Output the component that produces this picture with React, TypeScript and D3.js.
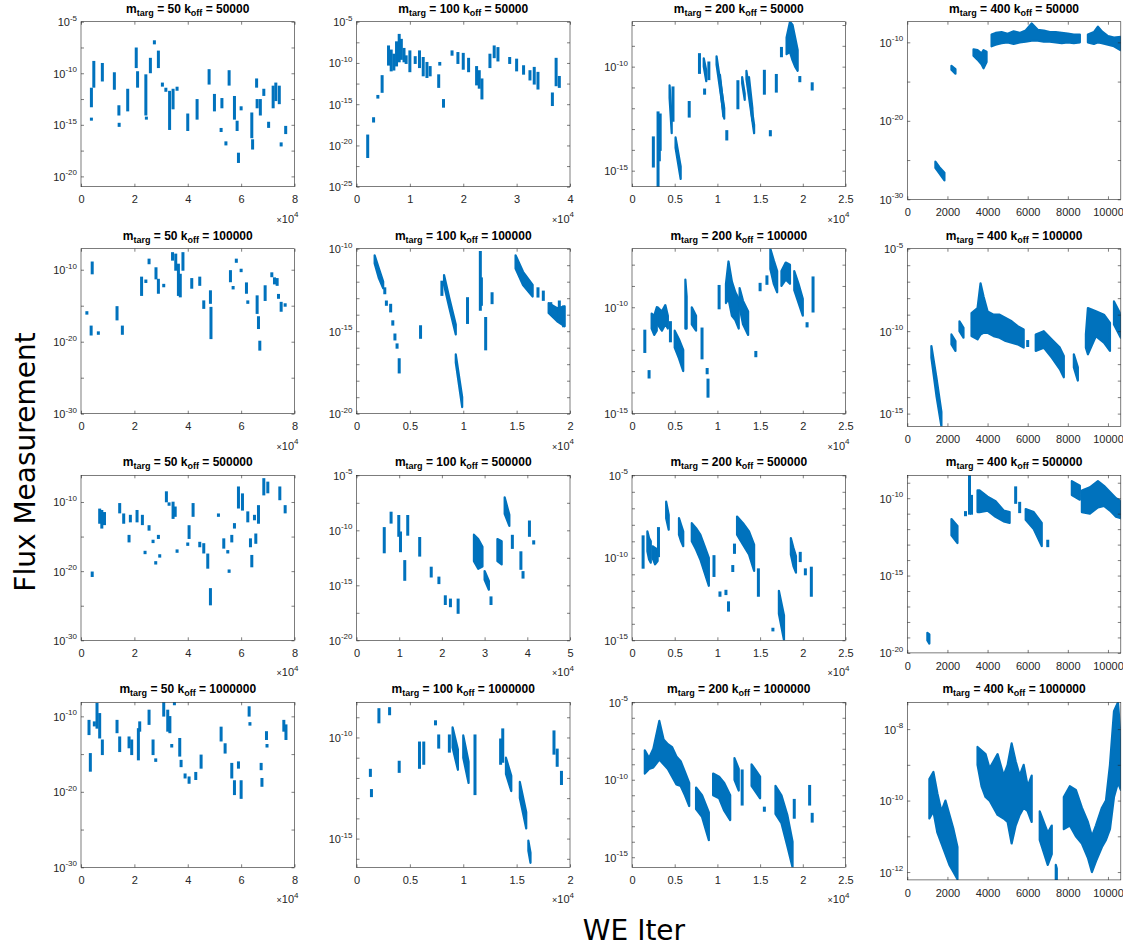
import { useEffect, useRef } from "react";
import * as d3 from "d3";

type Stick = [number, number, number]; // x, log10 top, log10 bottom
type Band = [number, number, number][];

const mTarg = [50, 100, 200, 400];
const kOff = [50000, 100000, 500000, 1000000];

// x axis limits and tick step, row by row (columns m=50,100,200,400)
const xMax = [
    [80000, 40000, 25000, 10640],
    [80000, 20000, 25000, 10640],
    [80000, 50000, 25000, 10640],
    [80000, 20000, 25000, 10640],
];
const xStep = [
    [20000, 10000, 5000, 2000],
    [20000, 5000, 5000, 2000],
    [20000, 10000, 5000, 2000],
    [20000, 5000, 5000, 2000],
];

// y axis limits as exponents [bottom, top], labelled exponents and tick spacing
const yLim = [
    [[-21, -5], [-25, -5], [-15.77, -7.84], [-30, -7.37]],
    [[-30, -7.08], [-20, -10], [-15, -7.25], [-15.77, -5]],
    [[-30, -6.14], [-20, -5], [-15, -5], [-20, -8.52]],
    [[-30, -8.14], [-16.42, -8.26], [-15.65, -5], [-12.22, -7.25]],
];
const yLabels = [
    [[-5, -10, -15, -20], [-5, -10, -15, -20, -25], [-10, -15], [-10, -20, -30]],
    [[-10, -20, -30], [-10, -15, -20], [-10, -15], [-5, -10, -15]],
    [[-10, -20, -30], [-5, -10, -15, -20], [-5, -10, -15], [-10, -15, -20]],
    [[-10, -20, -30], [-10, -15], [-5, -10, -15], [-8, -10, -12]],
];
const yTickStep = [
    [2.5, 2.5, 1, 5],
    [5, 1, 1, 1],
    [5, 2.5, 1, 1],
    [5, 1, 1, 1],
];

// ---- k_off = 50000 ----
const r1c1Sticks: Stick[] = [
    [3900, -11.5, -13.2], [3900, -14.4, -14.5], [4800, -8.9, -11.3], [8000, -9.1, -10.7],
    [12500, -10.0, -11.5], [14200, -13.2, -14.0], [14300, -14.9, -15.1], [17500, -11.6, -13.6],
    [20700, -7.6, -9.4], [21200, -9.9, -11.3], [24300, -10.2, -14.0], [24500, -14.3, -14.4],
    [26000, -8.6, -9.9], [27500, -6.9, -7.1], [29000, -7.9, -9.4], [30500, -11.0, -11.2],
    [31800, -11.5, -11.7], [33200, -11.8, -15.4], [34500, -11.6, -13.4], [36000, -11.4, -11.6],
    [40000, -14.0, -15.5], [43500, -12.6, -14.4], [48000, -9.7, -11.0], [50000, -12.1, -13.6],
    [52800, -12.5, -13.3], [52500, -15.4, -15.6], [54300, -16.7, -16.9], [55500, -9.8, -11.1],
    [57500, -12.3, -14.4], [58500, -14.7, -15.5], [59000, -17.8, -18.6], [60000, -13.3, -13.5],
    [64000, -13.9, -16.2], [64300, -16.5, -17.3], [65800, -10.6, -11.3], [66000, -12.6, -13.3],
    [67200, -12.6, -14.0], [68500, -11.6, -12.1], [70300, -14.8, -15.2], [72000, -11.3, -13.3],
    [73000, -11.0, -12.6], [74300, -11.3, -12.9], [75000, -16.8, -17.0], [76700, -15.2, -15.8],
];
const r1c1Bands: Band[] = [];

const r1c2Sticks: Stick[] = [
    [2100, -18.8, -21.4], [3200, -16.7, -17.1], [4000, -14.0, -14.2], [4800, -11.6, -13.5],
    [6000, -8.0, -10.2], [6500, -8.5, -10.9], [7000, -9.0, -10.8], [7500, -7.5, -10.3],
    [8000, -6.6, -9.8], [8400, -7.2, -9.5], [8900, -8.3, -9.8], [9300, -9.2, -10.0],
    [10000, -8.6, -11.0], [11000, -9.3, -10.0], [11800, -8.6, -10.5], [12500, -9.4, -11.5],
    [13200, -10.0, -11.7], [13800, -10.5, -11.5], [15400, -11.5, -12.9], [15600, -10.0, -10.2],
    [16300, -14.5, -15.3], [17900, -8.6, -9.0], [19000, -8.8, -10.0], [20000, -8.9, -10.7],
    [21000, -9.5, -11.0], [22500, -10.5, -12.6], [23000, -11.0, -13.0], [23500, -12.0, -14.3],
    [25000, -9.0, -10.5], [25800, -8.0, -9.3], [26500, -8.2, -9.7], [28700, -9.4, -10.0],
    [30000, -9.6, -10.9], [31300, -10.4, -11.3], [32500, -11.0, -12.0], [33300, -10.6, -12.5],
    [34000, -11.2, -13.1], [36700, -13.7, -15.1], [37400, -9.5, -12.7], [38000, -11.7, -12.9],
];
const r1c2Bands: Band[] = [];

const r1c3Sticks: Stick[] = [
    [2500, -13.4, -14.8], [3050, -12.2, -15.8], [3200, -12.5, -14.5], [3300, -12.3, -14.0],
    [4800, -11.0, -12.6], [6700, -11.7, -12.4], [7900, -9.4, -10.3], [8500, -11.1, -11.3],
    [9000, -9.8, -10.6], [11100, -13.1, -13.5], [12400, -10.7, -12.0], [15500, -10.2, -11.3],
    [16200, -13.1, -13.3], [16900, -10.4, -11.2], [17500, -9.1, -9.5], [19650, -10.5, -10.7],
    [21100, -10.8, -11.1],
];
const r1c3Bands: Band[] = [
    [[4400, -10.9, -11.5], [4650, -12.5, -13.2]],
    [[5100, -13.4, -13.9], [5700, -14.8, -15.4]],
    [[8400, -9.6, -10.0], [8700, -10.2, -10.7]],
    [[9900, -9.5, -9.9], [10800, -12.0, -12.5]],
    [[10300, -10.4, -10.8], [10700, -11.9, -12.4]],
    [[12900, -10.5, -10.8], [13200, -11.3, -11.6]],
    [[13400, -10.2, -10.6], [14300, -12.8, -13.2]],
    [[13700, -10.5, -11.0], [14100, -12.0, -12.6]],
    [[18100, -8.6, -9.4], [18500, -7.84, -9.3], [18800, -8.0, -9.7], [19100, -8.6, -10.0], [19400, -9.2, -10.2]],
];

const r1c4Sticks: Stick[] = [];
const r1c4Bands: Band[] = [
    [[1400, -25.2, -26.0], [1600, -25.9, -26.7], [1850, -26.6, -27.6]],
    [[2200, -13.0, -13.5], [2400, -13.4, -14.0]],
    [[3300, -10.9, -11.7], [3500, -11.0, -12.2], [3700, -11.4, -12.8], [3800, -11.0, -13.3], [3950, -11.2, -12.5]],
    [
        [4200, -9.0, -10.5], [4400, -8.8, -10.3], [4700, -8.7, -10.1], [5000, -8.9, -10.0],
        [5300, -8.6, -10.2], [5600, -8.8, -10.0], [5900, -8.5, -9.9], [6200, -7.6, -9.8],
        [6500, -8.4, -9.8], [6800, -8.5, -9.9], [7100, -8.7, -9.9], [7400, -8.7, -10.0],
        [7700, -8.8, -10.1], [8000, -8.9, -10.0], [8300, -9.0, -10.1], [8600, -9.0, -10.0],
    ],
    [
        [9000, -9.0, -10.0], [9300, -8.7, -10.2], [9500, -8.0, -10.0], [9700, -8.6, -10.1],
        [10000, -9.2, -10.3], [10300, -9.4, -10.5], [10640, -9.3, -11.0],
    ],
];

// ---- k_off = 100000 ----
const r2c1Sticks: Stick[] = [
    [2200, -15.9, -16.1], [3800, -17.9, -19.0], [4200, -9.0, -10.5], [6500, -18.7, -18.9],
    [13500, -15.2, -16.9], [15500, -17.9, -18.9], [22700, -11.1, -13.5], [24300, -11.5, -11.7],
    [25500, -8.6, -9.1], [28100, -9.8, -11.2], [29000, -11.4, -13.2], [31000, -12.1, -12.3],
    [34300, -7.7, -8.6], [35500, -7.9, -10.0], [36500, -9.3, -13.5], [37200, -10.7, -13.7],
    [38200, -7.7, -10.0], [41500, -11.3, -12.5], [44500, -11.1, -12.1], [46000, -14.4, -15.3],
    [48500, -13.0, -14.6], [48700, -15.3, -19.5], [56000, -10.2, -11.6], [57000, -12.4, -12.6],
    [58200, -8.6, -8.9], [60000, -10.0, -10.2], [62000, -11.9, -13.2], [62500, -14.4, -14.6],
    [66000, -13.7, -16.0], [66500, -16.6, -18.1], [67000, -20.0, -21.1], [69000, -12.3, -14.2],
    [71500, -10.5, -10.9], [72500, -11.2, -11.9], [73500, -11.3, -12.1], [74000, -13.5, -13.9],
    [75000, -14.6, -15.7], [76500, -14.8, -15.0],
];
const r2c1Bands: Band[] = [];

const r2c2Sticks: Stick[] = [
    [2650, -12.4, -12.7], [2800, -13.2, -13.4], [3200, -13.4, -13.8], [3400, -14.4, -14.6],
    [3600, -15.2, -15.5], [3800, -15.8, -16.0], [4000, -16.7, -17.5], [6000, -14.7, -15.4],
    [8000, -12.0, -12.8], [10400, -13.0, -14.5], [11600, -10.2, -13.7], [11700, -11.8, -13.4],
    [12100, -14.2, -16.1], [12700, -12.7, -13.3], [17000, -12.4, -12.9], [17500, -12.6, -13.1],
    [18200, -13.3, -13.8], [19000, -13.2, -14.4], [19400, -13.5, -14.7],
];
const r2c2Bands: Band[] = [
    [[1700, -10.4, -10.9], [2100, -11.2, -11.8], [2500, -12.0, -12.4]],
    [[8200, -11.6, -12.2], [8700, -13.0, -13.6], [9300, -14.6, -15.2]],
    [[9300, -16.4, -16.9], [9900, -19.0, -19.6]],
    [[14900, -10.4, -11.2], [15600, -11.4, -12.2], [16500, -12.2, -12.9]],
    [[18000, -13.3, -13.9], [18800, -13.6, -14.4], [19500, -13.5, -14.7]],
];

const r2c3Sticks: Stick[] = [
    [1500, -11.1, -12.1], [2000, -13.0, -13.3], [4500, -10.7, -11.6], [8200, -11.0, -12.4],
    [8800, -12.9, -13.1], [8900, -13.4, -14.2], [10200, -9.0, -10.05], [14500, -12.1, -12.3],
    [15000, -8.9, -9.2], [15800, -8.55, -8.9], [20500, -10.75, -10.9], [21200, -8.6, -10.2],
];
const r2c3Bands: Band[] = [
    [[2300, -10.3, -11.0], [2600, -10.4, -11.3], [2900, -10.0, -11.1]],
    [[3000, -10.0, -10.8], [3500, -10.2, -11.1], [3900, -9.9, -10.8], [4200, -10.4, -11.0]],
    [[5000, -11.1, -11.9], [5500, -11.5, -12.4], [6000, -12.0, -13.0]],
    [[6250, -8.7, -11.0], [6400, -9.5, -11.0]],
    [[7000, -10.0, -10.8], [7500, -10.4, -11.1]],
    [[11000, -8.9, -9.8], [11300, -7.85, -9.6], [11700, -8.8, -10.4], [12100, -9.3, -10.6], [12500, -9.6, -11.0]],
    [[12600, -9.1, -10.0], [13000, -9.7, -10.8], [13600, -10.2, -11.3]],
    [[16200, -7.25, -8.2], [16600, -7.8, -8.9], [17000, -8.3, -9.3]],
    [[17500, -8.3, -9.0], [18000, -7.9, -8.7], [18500, -8.0, -8.9]],
    [[19000, -8.3, -9.2], [19500, -8.9, -9.8], [20000, -9.6, -10.4]],
];

const r2c4Sticks: Stick[] = [[6000, -10.6, -10.9]];
const r2c4Bands: Band[] = [
    [[1200, -10.9, -11.6], [1450, -12.8, -13.9], [1700, -14.9, -15.77]],
    [[2200, -10.2, -10.8], [2400, -10.6, -11.2]],
    [[2600, -9.4, -10.0], [2800, -9.8, -10.4]],
    [
        [3200, -8.9, -10.3], [3500, -8.6, -10.5], [3650, -7.1, -10.2], [3800, -7.9, -10.1],
        [4000, -8.8, -10.1], [4300, -9.0, -10.3], [4600, -9.0, -10.4], [4900, -9.2, -10.6],
        [5200, -9.4, -10.7], [5500, -9.7, -10.8], [5800, -9.9, -11.0],
    ],
    [[6400, -10.2, -11.2], [6800, -10.0, -11.0], [7200, -10.5, -11.6], [7600, -11.0, -12.3], [7800, -11.5, -12.8]],
    [[8300, -11.4, -12.2], [8500, -12.2, -13.0]],
    [[8900, -10.2, -11.0], [9000, -8.6, -11.4], [9400, -8.8, -10.3], [9800, -9.0, -10.7], [10100, -9.5, -11.2]],
    [[10300, -8.2, -9.6], [10640, -9.0, -10.4]],
];

// ---- k_off = 500000 ----
const r3c1Sticks: Stick[] = [
    [4200, -20.2, -20.7], [7000, -11.1, -13.0], [7800, -11.3, -13.7], [8800, -11.6, -13.2],
    [14500, -10.3, -11.5], [16000, -11.8, -13.0], [18000, -14.9, -15.7], [18500, -12.0, -12.8],
    [21000, -11.3, -12.8], [23000, -12.0, -13.2], [24000, -17.2, -17.4], [25500, -13.5, -14.0],
    [27000, -15.6, -15.8], [28000, -18.7, -18.9], [29000, -14.9, -15.2], [29500, -17.7, -17.9],
    [32000, -8.6, -9.9], [33000, -10.2, -10.4], [34500, -10.1, -12.3], [35300, -10.8, -12.0],
    [36000, -17.0, -17.2], [40000, -16.0, -16.2], [40500, -13.5, -15.2], [42000, -10.3, -12.0],
    [44500, -15.9, -16.4], [46000, -16.1, -17.3], [47500, -17.6, -19.5], [48500, -22.6, -24.8],
    [51500, -11.8, -12.0], [53500, -15.4, -16.6], [55000, -17.1, -17.3], [55500, -19.9, -20.1],
    [56500, -14.9, -15.7], [57500, -13.2, -13.7], [59000, -7.9, -10.8], [60500, -8.9, -11.1],
    [62500, -11.5, -12.8], [63500, -15.4, -16.4], [64000, -17.8, -19.3], [65000, -12.0, -12.5],
    [65500, -14.7, -15.9], [66500, -10.6, -13.0], [68500, -6.7, -8.9], [70000, -7.2, -8.6],
    [74500, -7.9, -9.6], [76500, -10.6, -11.5],
];
const r3c1Bands: Band[] = [];

const r3c2Sticks: Stick[] = [
    [6500, -9.8, -12.0], [8100, -8.4, -9.3], [9900, -8.7, -10.5], [10300, -10.2, -11.9],
    [11300, -12.8, -14.5], [12000, -8.7, -10.4], [14800, -10.7, -12.3], [17500, -13.4, -14.2],
    [19300, -14.3, -14.8], [20800, -16.0, -16.7], [22000, -16.3, -16.9], [23800, -16.3, -17.5],
    [31500, -16.1, -16.7], [36500, -10.5, -11.6], [38500, -12.0, -13.5], [39000, -13.8, -14.3],
    [40500, -9.2, -10.5], [41500, -11.0, -11.2],
];
const r3c2Bands: Band[] = [
    [[27500, -10.4, -12.8], [28500, -10.8, -13.5], [29500, -11.5, -13.3]],
    [[30000, -13.7, -14.5], [31000, -14.6, -15.4]],
    [[33000, -10.8, -12.8], [34000, -11.0, -13.1]],
    [[34700, -7.0, -8.5], [35800, -8.6, -9.6]],
];

const r3c3Sticks: Stick[] = [
    [1300, -8.7, -10.6], [3100, -8.2, -9.9], [9600, -9.9, -11.1], [10300, -12.1, -12.3],
    [11000, -12.0, -12.2], [11300, -12.7, -13.2], [11800, -10.5, -10.8], [12000, -9.2, -9.7],
    [14800, -10.7, -12.3], [16500, -14.3, -14.4], [19700, -9.7, -10.2], [20300, -10.7, -11.0],
    [21000, -10.6, -12.3],
];
const r3c3Bands: Band[] = [
    [[1800, -8.4, -9.6], [2000, -8.8, -10.1], [2200, -9.0, -10.3]],
    [[2400, -9.3, -10.0], [2700, -9.4, -10.4], [3000, -9.5, -10.2]],
    [[4000, -6.6, -7.6], [4300, -7.4, -8.3]],
    [[5500, -7.6, -8.6], [5750, -8.0, -9.0], [6000, -8.4, -9.3]],
    [[7000, -7.9, -9.0], [7500, -8.2, -9.5], [8000, -8.6, -10.1], [8500, -9.3, -10.9], [9000, -10.0, -11.7]],
    [[12300, -7.5, -8.6], [13000, -7.9, -9.2], [13700, -8.4, -9.8], [14300, -9.2, -10.8]],
    [[17200, -12.0, -13.4], [17800, -13.5, -15.0]],
    [[18600, -8.8, -9.8], [18900, -9.4, -10.5], [19200, -9.9, -10.9]],
];

const r3c4Sticks: Stick[] = [
    [2900, -10.9, -11.1], [3100, -8.52, -11.0], [3200, -9.85, -11.0], [5400, -9.3, -10.3],
    [5600, -10.3, -10.9], [7000, -12.75, -13.1],
];
const r3c4Bands: Band[] = [
    [[1000, -18.7, -19.2], [1100, -18.8, -19.4]],
    [[2200, -11.35, -12.4], [2500, -11.8, -12.9]],
    [[3500, -9.5, -10.9], [3600, -9.5, -10.9], [4000, -9.9, -10.8], [4400, -10.2, -11.2], [4800, -10.8, -11.5], [5100, -10.9, -11.6]],
    [[5900, -10.7, -11.4], [6300, -10.9, -12.0], [6700, -11.6, -13.1]],
    [[8200, -8.9, -9.8], [8600, -9.2, -10.1]],
    [
        [8700, -9.5, -10.9], [9100, -9.3, -11.0], [9500, -8.9, -10.6], [9800, -9.2, -10.5],
        [10100, -9.6, -10.8], [10400, -10.0, -11.2], [10640, -10.2, -11.3],
    ],
];

// ---- k_off = 1000000 ----
const r4c1Sticks: Stick[] = [
    [3000, -10.6, -12.35], [3500, -15.0, -17.2], [5000, -10.8, -11.2], [6000, -8.35, -11.5],
    [7000, -9.7, -12.8], [8000, -13.2, -15.0], [13500, -10.6, -12.1], [14500, -12.8, -14.6],
    [18000, -12.8, -14.1], [19000, -13.2, -15.0], [21500, -11.7, -15.7], [22000, -10.8, -11.9],
    [25500, -9.25, -11.0], [27000, -13.2, -15.0], [28000, -15.7, -15.9], [31000, -8.14, -9.9],
    [32500, -9.25, -11.9], [33300, -10.1, -12.1], [34000, -13.8, -14.0], [35000, -8.14, -8.4],
    [37000, -13.0, -15.2], [37500, -15.9, -16.6], [39000, -17.7, -18.1], [40500, -18.1, -18.8],
    [43000, -17.5, -18.3], [45000, -15.2, -16.8], [52500, -11.5, -13.2], [54000, -13.7, -14.8],
    [56500, -16.3, -18.1], [57500, -18.6, -20.3], [59000, -16.1, -16.8], [60000, -18.6, -20.8],
    [63000, -8.8, -9.9], [63300, -10.9, -11.1], [67500, -16.3, -17.0], [67800, -18.3, -19.2],
    [69500, -12.1, -13.0], [69700, -13.8, -14.0], [76000, -10.6, -11.9], [76800, -11.2, -13.0],
];
const r4c1Bands: Band[] = [];

const r4c2Sticks: Stick[] = [
    [1300, -11.6, -11.9], [1400, -12.6, -12.9], [2100, -8.6, -9.25], [3100, -8.55, -8.85],
    [4000, -11.2, -11.7], [5900, -10.25, -11.5], [6300, -10.25, -11.3], [7400, -9.2, -9.35],
    [7700, -9.9, -10.5], [8700, -9.9, -10.7], [11100, -9.9, -12.8], [13500, -10.1, -11.3],
    [13700, -9.6, -11.2], [18500, -9.7, -10.8], [18800, -10.6, -11.4], [19200, -11.7, -12.3],
];
const r4c2Bands: Band[] = [
    [[9000, -9.5, -10.5], [9500, -10.6, -11.6]],
    [[10000, -9.9, -11.0], [10500, -11.2, -12.25]],
    [[14000, -11.0, -11.8], [14500, -11.9, -12.65]],
    [[15300, -12.2, -13.0], [15900, -13.7, -14.5]],
    [[16100, -15.1, -15.6], [16300, -15.7, -16.2]],
];

const r4c3Sticks: Stick[] = [
    [12900, -9.4, -11.6], [15500, -11.8, -12.0], [19000, -11.3, -12.45], [20800, -10.4, -11.6],
    [21100, -12.2, -12.7],
];
const r4c3Bands: Band[] = [
    [
        [1500, -8.1, -9.6], [2000, -8.6, -9.3], [2500, -8.0, -9.2], [3200, -6.2, -8.7],
        [3700, -7.4, -9.0], [4200, -7.7, -9.3], [4700, -7.9, -9.8], [5200, -8.5, -10.3],
        [5700, -8.8, -10.4], [6200, -9.5, -11.0], [6700, -10.2, -11.7],
    ],
    [[7500, -10.5, -11.9], [8200, -11.0, -12.4], [9000, -12.1, -13.9]],
    [[9500, -9.6, -11.0], [10200, -9.8, -11.2], [10800, -10.2, -12.0], [11500, -11.0, -12.6]],
    [[12000, -8.6, -10.0], [12500, -9.3, -10.7]],
    [[14000, -9.0, -10.4], [14500, -9.4, -10.8], [15000, -9.8, -11.2]],
    [[16800, -10.4, -12.2], [17500, -11.0, -12.8], [18200, -12.3, -14.3], [18800, -14.0, -15.65]],
];

const r4c4Sticks: Stick[] = [];
const r4c4Bands: Band[] = [
    [
        [1100, -9.4, -10.5], [1300, -9.2, -10.3], [1500, -9.8, -10.9], [1700, -10.3, -11.2],
        [1900, -10.0, -11.5], [2100, -10.4, -11.8], [2300, -10.8, -12.0], [2500, -11.3, -12.2],
    ],
    [
        [3500, -8.5, -9.0], [3700, -8.6, -9.6], [3900, -8.7, -9.9], [4100, -9.1, -10.0],
        [4300, -8.9, -10.2], [4500, -8.7, -10.4], [4800, -9.3, -10.5], [5000, -9.0, -10.6],
        [5200, -8.4, -11.2], [5400, -8.9, -10.7], [5600, -9.3, -10.4], [5800, -9.0, -10.2],
        [6000, -9.6, -10.3], [6200, -9.3, -10.6],
    ],
    [[6600, -10.3, -11.1], [7000, -10.9, -11.8], [7200, -10.7, -11.5]],
    [[7400, -11.8, -12.22], [7450, -11.9, -12.22]],
    [
        [7800, -9.9, -10.8], [8100, -9.6, -10.7], [8400, -9.7, -11.0], [8700, -10.2, -11.2],
        [9000, -10.6, -11.6], [9200, -11.0, -12.0], [9400, -10.7, -11.7], [9700, -10.2, -11.3],
        [9900, -10.0, -11.1], [10100, -9.0, -10.8], [10300, -7.5, -9.9], [10500, -7.25, -9.5],
        [10640, -8.3, -9.7],
    ],
];

const sticks: Stick[][] = [
    r1c1Sticks, r1c2Sticks, r1c3Sticks, r1c4Sticks,
    r2c1Sticks, r2c2Sticks, r2c3Sticks, r2c4Sticks,
    r3c1Sticks, r3c2Sticks, r3c3Sticks, r3c4Sticks,
    r4c1Sticks, r4c2Sticks, r4c3Sticks, r4c4Sticks,
];
const bands: Band[][] = [
    r1c1Bands, r1c2Bands, r1c3Bands, r1c4Bands,
    r2c1Bands, r2c2Bands, r2c3Bands, r2c4Bands,
    r3c1Bands, r3c2Bands, r3c3Bands, r3c4Bands,
    r4c1Bands, r4c2Bands, r4c3Bands, r4c4Bands,
];

export default function App() {
    const svgRef = useRef<SVGSVGElement | null>(null);

    useEffect(() => {
        if (!svgRef.current) return;
        const svg = d3.select(svgRef.current);
        svg.selectAll("*").remove();

        const font = "'Liberation Sans', Arial, Helvetica, sans-serif";
        const bigFont = "'DejaVu Sans', Verdana, sans-serif";
        const blue = "#0072BD";
        const ink = "#262626";

        // subplot layout
        const colLeft = [81, 356.5, 632, 907.3];
        const rowTop = [21.7, 248.7, 475.3, 702.3];

        for (let r = 0; r < 4; r++) {
            for (let c = 0; c < 4; c++) {
                const i = r * 4 + c;
                const w = 213.5;
                const h = c === 3 ? 177.6 : 165;
                const g = svg.append("g").attr("transform", `translate(${colLeft[c]},${rowTop[r]})`);

                const x = d3.scaleLinear().domain([0, xMax[r][c]]).range([0, w]);
                const [lo, hi] = yLim[r][c];
                const y = d3.scaleLog().domain([10 ** lo, 10 ** hi]).range([h, 0]);
                const yv = (e: number) => y(10 ** e);

                g.append("clipPath").attr("id", `clip-${i}`)
                    .append("rect").attr("width", w).attr("height", h);

                const plot = g.append("g").attr("clip-path", `url(#clip-${i})`);

                // dense stretches
                const area = d3.area<[number, number, number]>()
                    .x((d) => x(d[0]))
                    .y0((d) => yv(d[2]))
                    .y1((d) => yv(d[1]));
                plot.selectAll(".band")
                    .data(bands[i])
                    .enter()
                    .append("path")
                    .attr("d", (d) => area(d) || "")
                    .attr("fill", blue)
                    .attr("stroke", blue)
                    .attr("stroke-width", 2.2)
                    .attr("stroke-linejoin", "round");

                // short runs
                plot.selectAll(".stick")
                    .data(sticks[i])
                    .enter()
                    .append("rect")
                    .attr("x", (d) => x(d[0]) - 1.5)
                    .attr("width", 3)
                    .attr("y", (d) => yv(d[1]) - 1)
                    .attr("height", (d) => Math.max(2, yv(d[2]) - yv(d[1]) + 2))
                    .attr("fill", blue);

                // ticks
                const xt = d3.range(0, xMax[r][c] + 1, xStep[r][c]);
                const step = yTickStep[r][c];
                const yt = d3.range(Math.ceil(lo / step) * step, hi + 1e-6, step).map((e) => 10 ** e);

                const styleAxis = (sel: d3.Selection<SVGGElement, unknown, null, undefined>) => {
                    sel.select(".domain").remove();
                    sel.selectAll("line").attr("stroke", ink).attr("stroke-width", 0.6);
                    sel.attr("font-family", font).attr("font-size", 11);
                };

                g.append("g")
                    .attr("transform", `translate(0,${h})`)
                    .call(
                        d3.axisBottom(x)
                            .tickValues(xt)
                            .tickSize(-3)
                            .tickPadding(9)
                            .tickFormat((d) => (c === 3 ? String(d) : String(+d / 10000)))
                    )
                    .call(styleAxis)
                    .selectAll("text")
                    .attr("fill", ink);
                g.append("g")
                    .call(d3.axisTop(x).tickValues(xt).tickSize(-3).tickFormat(() => ""))
                    .call(styleAxis);
                g.append("g")
                    .call(d3.axisLeft(y).tickValues(yt).tickSize(-3).tickFormat(() => ""))
                    .call(styleAxis);
                g.append("g")
                    .attr("transform", `translate(${w},0)`)
                    .call(d3.axisRight(y).tickValues(yt).tickSize(-3).tickFormat(() => ""))
                    .call(styleAxis);

                // box
                g.append("rect")
                    .attr("width", w)
                    .attr("height", h)
                    .attr("fill", "none")
                    .attr("stroke", ink)
                    .attr("stroke-width", 0.6);

                // y tick labels 10^n
                yLabels[r][c].forEach((e) => {
                    const t = g.append("text")
                        .attr("x", -4)
                        .attr("y", yv(e) + 4.5)
                        .attr("text-anchor", "end")
                        .attr("font-family", font)
                        .attr("font-size", 11)
                        .attr("fill", ink);
                    t.append("tspan").text("10");
                    t.append("tspan").attr("font-size", 8).attr("dy", -5.5).text(String(e));
                });

                // exponent note under the x axis
                if (c < 3) {
                    const t = g.append("text")
                        .attr("x", w + 4)
                        .attr("y", h + 36)
                        .attr("text-anchor", "end")
                        .attr("font-family", font)
                        .attr("font-size", 11)
                        .attr("fill", ink);
                    t.append("tspan").attr("font-size", 9).text("\u00d7");
                    t.append("tspan").text("10");
                    t.append("tspan").attr("font-size", 8).attr("dy", -5.5).text("4");
                }

                // title
                const tt = g.append("text")
                    .attr("x", w / 2)
                    .attr("y", -9)
                    .attr("text-anchor", "middle")
                    .attr("font-family", font)
                    .attr("font-size", 12)
                    .attr("font-weight", "bold")
                    .attr("fill", "#000");
                tt.append("tspan").text("m");
                tt.append("tspan").attr("font-size", 9).attr("dy", 3).text("targ");
                tt.append("tspan").attr("dy", -3).text(` = ${mTarg[c]} k`);
                tt.append("tspan").attr("font-size", 9).attr("dy", 3).text("off");
                tt.append("tspan").attr("dy", -3).text(` = ${kOff[r]}`);
            }
        }

        svg.append("text")
            .attr("transform", "translate(35,462) rotate(-90)")
            .attr("text-anchor", "middle")
            .attr("font-family", bigFont)
            .attr("font-size", 28)
            .attr("fill", "#000")
            .text("Flux Measurement");

        svg.append("text")
            .attr("x", 634)
            .attr("y", 940)
            .attr("text-anchor", "middle")
            .attr("font-family", bigFont)
            .attr("font-size", 28)
            .attr("fill", "#000")
            .text("WE Iter");
    }, []);

    return (
        <svg
            ref={svgRef}
            width={1123}
            height={947}
            style={{ position: "absolute", left: 0, top: 0, background: "#fff" }}
        />
    );
}
